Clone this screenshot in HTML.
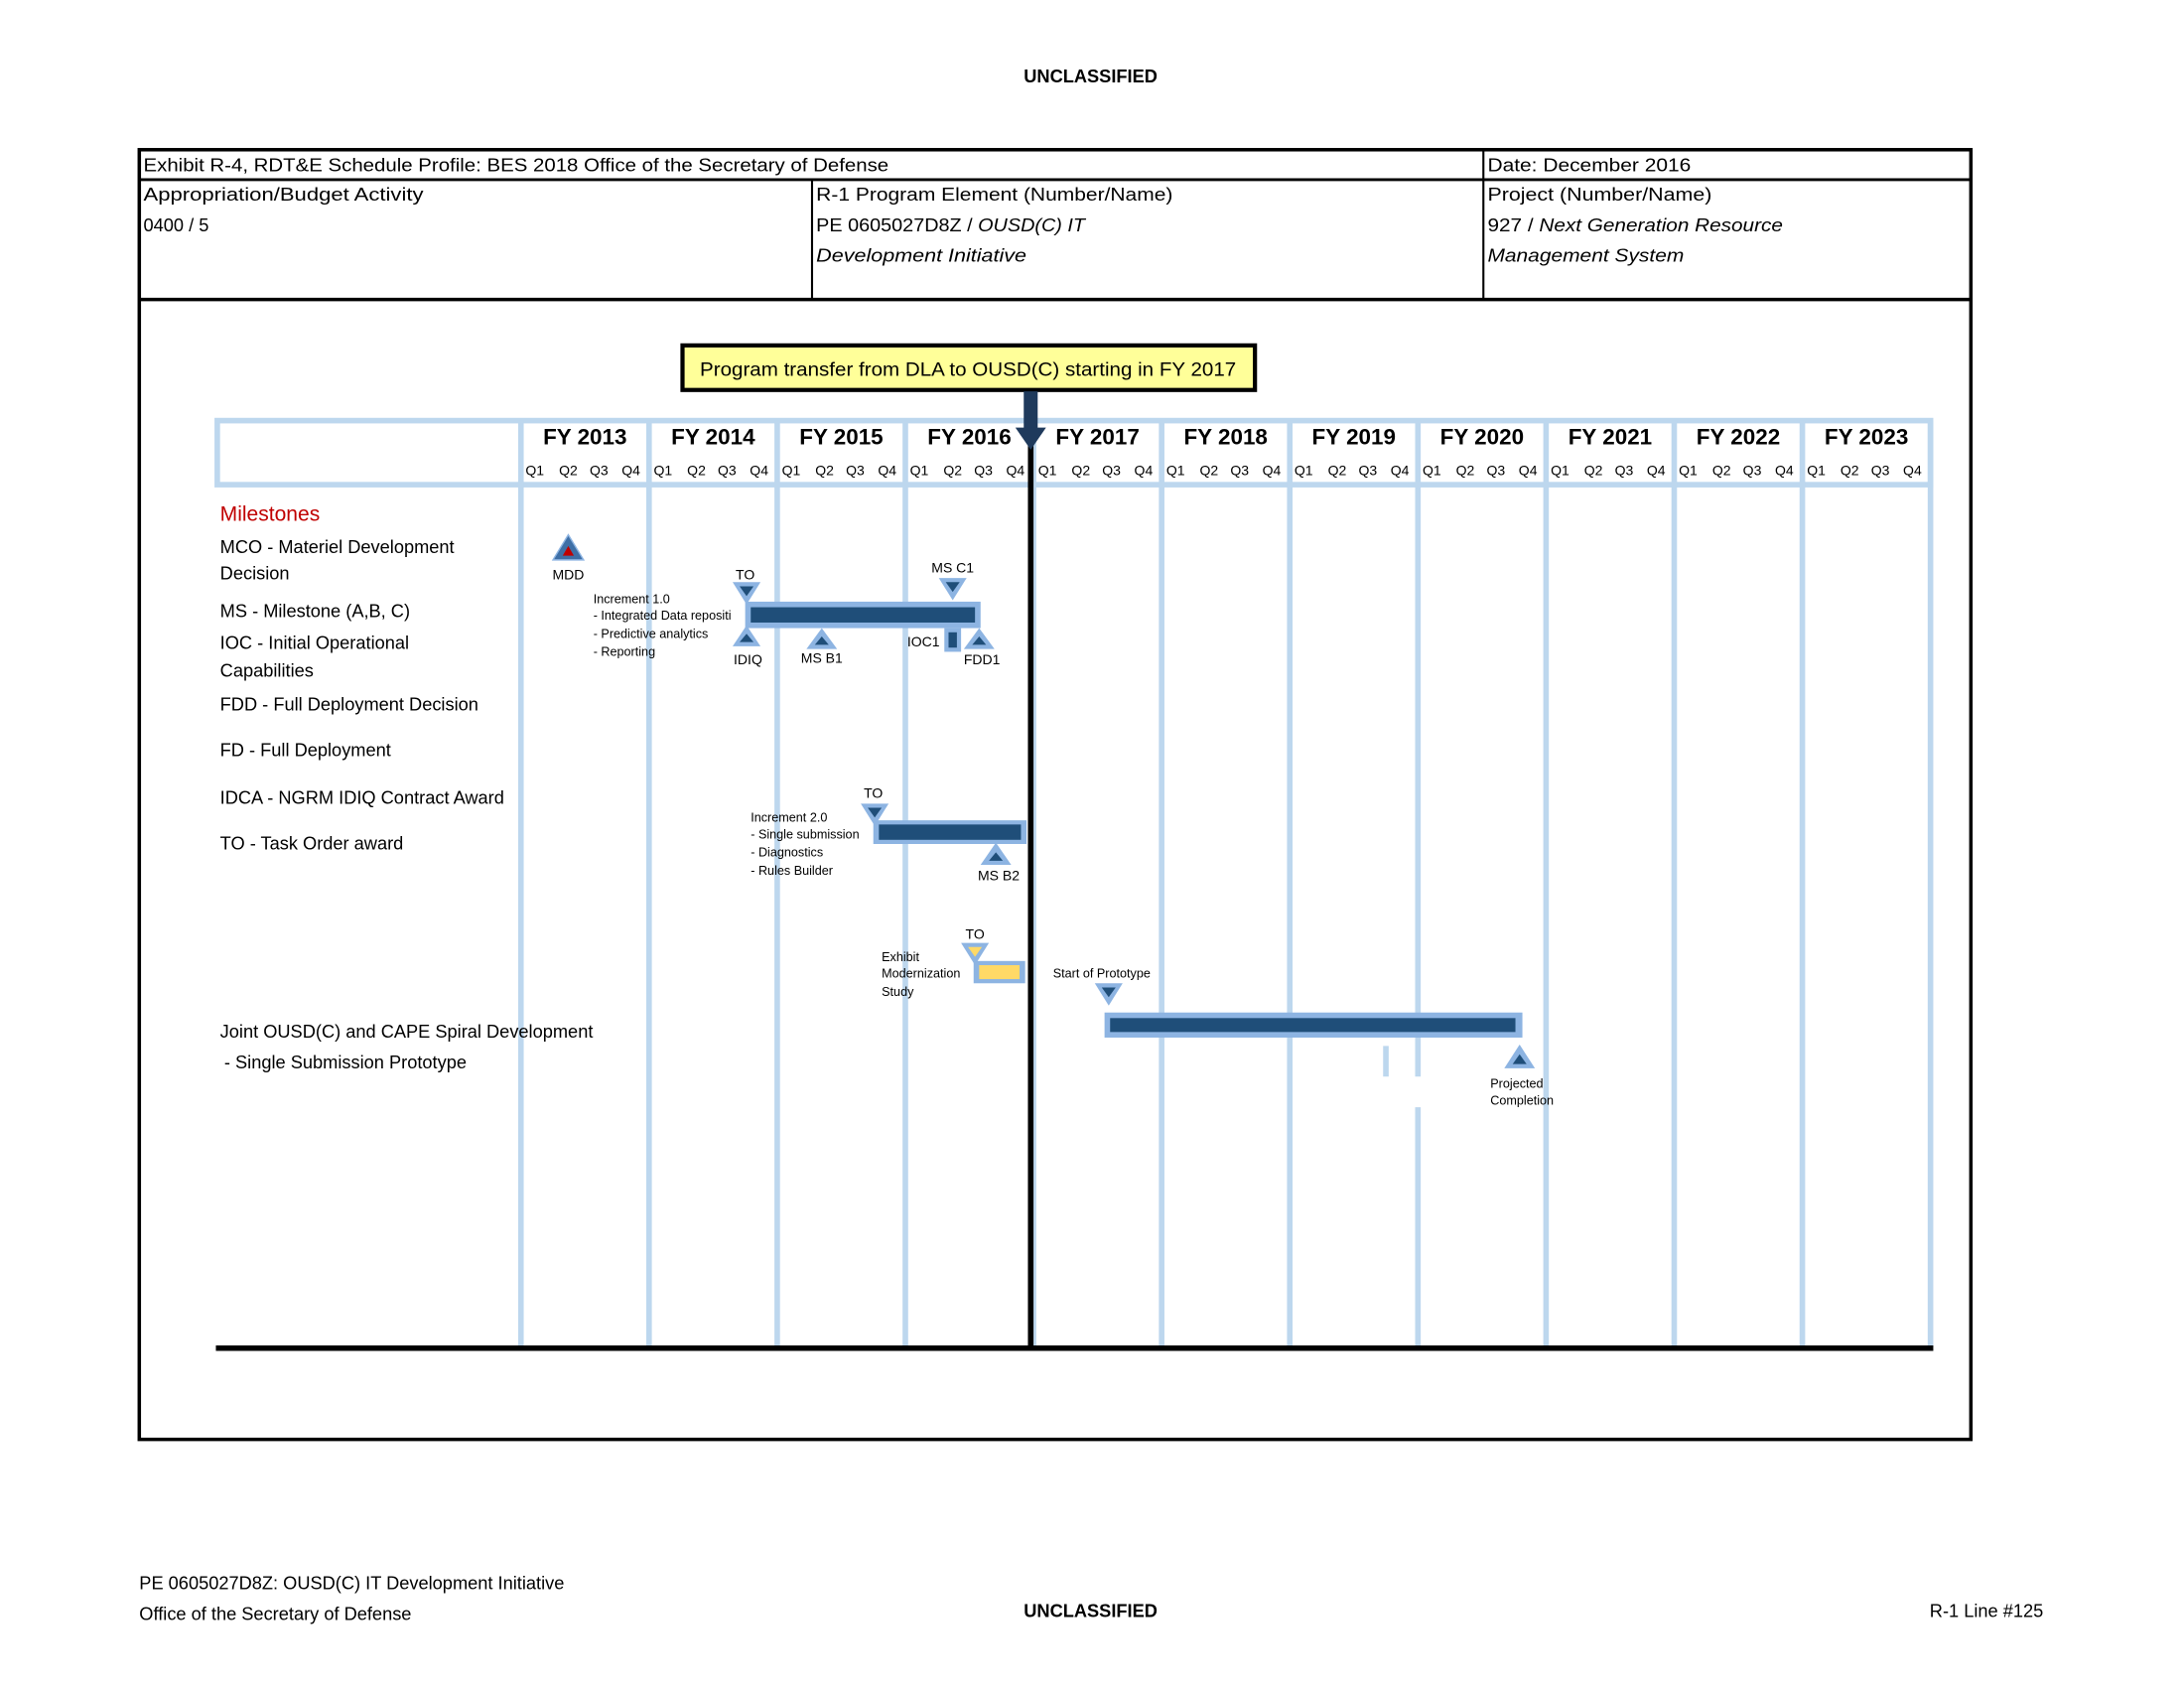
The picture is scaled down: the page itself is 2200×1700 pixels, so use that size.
<!DOCTYPE html>
<html><head><meta charset="utf-8"><style>
html,body{margin:0;padding:0;background:#fff;}
svg{display:block;}
text{font-family:"Liberation Sans",sans-serif;fill:#000;}
</style></head><body>
<svg width="2200" height="1700" viewBox="0 0 1568 1212" preserveAspectRatio="none" xmlns="http://www.w3.org/2000/svg">
<rect width="1600" height="1250" fill="#fff"/>
<text x="783" y="59" font-size="13" font-weight="bold" text-anchor="middle">UNCLASSIFIED</text>

<rect x="100" y="107.5" width="1315" height="926" fill="none" stroke="#000" stroke-width="2.5"/>
<line x1="100" y1="129" x2="1415" y2="129" stroke="#000" stroke-width="2"/>
<line x1="100" y1="215" x2="1415" y2="215" stroke="#000" stroke-width="2.5"/>
<line x1="1065" y1="107" x2="1065" y2="215" stroke="#000" stroke-width="1.5"/>
<line x1="583" y1="129" x2="583" y2="215" stroke="#000" stroke-width="1.5"/>
<g font-size="13">
<text x="103" y="123" textLength="535" lengthAdjust="spacingAndGlyphs">Exhibit R-4, RDT&amp;E Schedule Profile: BES 2018 Office of the Secretary of Defense</text>
<text x="1068" y="123" textLength="146" lengthAdjust="spacingAndGlyphs">Date: December 2016</text>
<text x="103" y="144" textLength="201" lengthAdjust="spacingAndGlyphs">Appropriation/Budget Activity</text>
<text x="103" y="166">0400 / 5</text>
<text x="586" y="144" textLength="256" lengthAdjust="spacingAndGlyphs">R-1 Program Element (Number/Name)</text>
<text x="586" y="166" textLength="193" lengthAdjust="spacingAndGlyphs">PE 0605027D8Z / <tspan font-style="italic">OUSD(C) IT</tspan></text>
<text x="586" y="188" font-style="italic" textLength="151" lengthAdjust="spacingAndGlyphs">Development Initiative</text>
<text x="1068" y="144" textLength="161" lengthAdjust="spacingAndGlyphs">Project (Number/Name)</text>
<text x="1068" y="166" textLength="212" lengthAdjust="spacingAndGlyphs">927 / <tspan font-style="italic">Next Generation Resource</tspan></text>
<text x="1068" y="188" font-style="italic" textLength="141" lengthAdjust="spacingAndGlyphs">Management System</text>
</g>

<rect x="490" y="248" width="411" height="32" fill="#ffff99" stroke="#000" stroke-width="3"/>
<text x="695" y="270" font-size="14" text-anchor="middle" textLength="385" lengthAdjust="spacingAndGlyphs">Program transfer from DLA to OUSD(C) starting in FY 2017</text>

<g stroke="#bdd7ee" stroke-width="4" fill="none">
<rect x="156" y="302" width="1230" height="46"/>
<line x1="374" y1="302" x2="374" y2="966"/>
<line x1="466" y1="302" x2="466" y2="966"/>
<line x1="558" y1="302" x2="558" y2="966"/>
<line x1="650" y1="302" x2="650" y2="966"/>
<line x1="742" y1="302" x2="742" y2="966"/>
<line x1="834" y1="302" x2="834" y2="966"/>
<line x1="926" y1="302" x2="926" y2="966"/>
<line x1="1018" y1="302" x2="1018" y2="966"/>
<line x1="1110" y1="302" x2="1110" y2="966"/>
<line x1="1202" y1="302" x2="1202" y2="966"/>
<line x1="1294" y1="302" x2="1294" y2="966"/>
<line x1="1386" y1="302" x2="1386" y2="966"/>
<line x1="995" y1="751" x2="995" y2="773"/>
</g>
<rect x="1012" y="773" width="12" height="22" fill="#fff"/>
<g font-size="16" font-weight="bold" text-anchor="middle">
<text x="420" y="319">FY 2013</text><text x="512" y="319">FY 2014</text><text x="604" y="319">FY 2015</text>
<text x="696" y="319">FY 2016</text><text x="788" y="319">FY 2017</text><text x="880" y="319">FY 2018</text>
<text x="972" y="319">FY 2019</text><text x="1064" y="319">FY 2020</text><text x="1156" y="319">FY 2021</text>
<text x="1248" y="319">FY 2022</text><text x="1340" y="319">FY 2023</text>
</g>
<g font-size="10" fill="#333" text-anchor="middle">
<text x="384" y="341">Q1</text><text x="408" y="341">Q2</text><text x="430" y="341">Q3</text><text x="453" y="341">Q4</text>
<text x="476" y="341">Q1</text><text x="500" y="341">Q2</text><text x="522" y="341">Q3</text><text x="545" y="341">Q4</text>
<text x="568" y="341">Q1</text><text x="592" y="341">Q2</text><text x="614" y="341">Q3</text><text x="637" y="341">Q4</text>
<text x="660" y="341">Q1</text><text x="684" y="341">Q2</text><text x="706" y="341">Q3</text><text x="729" y="341">Q4</text>
<text x="752" y="341">Q1</text><text x="776" y="341">Q2</text><text x="798" y="341">Q3</text><text x="821" y="341">Q4</text>
<text x="844" y="341">Q1</text><text x="868" y="341">Q2</text><text x="890" y="341">Q3</text><text x="913" y="341">Q4</text>
<text x="936" y="341">Q1</text><text x="960" y="341">Q2</text><text x="982" y="341">Q3</text><text x="1005" y="341">Q4</text>
<text x="1028" y="341">Q1</text><text x="1052" y="341">Q2</text><text x="1074" y="341">Q3</text><text x="1097" y="341">Q4</text>
<text x="1120" y="341">Q1</text><text x="1144" y="341">Q2</text><text x="1166" y="341">Q3</text><text x="1189" y="341">Q4</text>
<text x="1212" y="341">Q1</text><text x="1236" y="341">Q2</text><text x="1258" y="341">Q3</text><text x="1281" y="341">Q4</text>
<text x="1304" y="341">Q1</text><text x="1328" y="341">Q2</text><text x="1350" y="341">Q3</text><text x="1373" y="341">Q4</text>
</g>

<line x1="740" y1="318" x2="740" y2="966" stroke="#000" stroke-width="4"/>
<rect x="735" y="281" width="10" height="28" fill="#1f3a5c"/>
<polygon points="729,307 751,307 740,323" fill="#1f3a5c"/>
<line x1="155" y1="968" x2="1388" y2="968" stroke="#000" stroke-width="4"/>

<text x="158" y="374" font-size="15" style="fill:#c00000">Milestones</text>
<g font-size="13">
<text x="158" y="397">MCO - Materiel Development</text>
<text x="158" y="416">Decision</text>
<text x="158" y="443">MS - Milestone (A,B, C)</text>
<text x="158" y="466">IOC - Initial Operational</text>
<text x="158" y="486">Capabilities</text>
<text x="158" y="510">FDD - Full Deployment Decision</text>
<text x="158" y="543">FD - Full Deployment</text>
<text x="158" y="577">IDCA - NGRM IDIQ Contract Award</text>
<text x="158" y="610">TO - Task Order award</text>
<text x="158" y="745">Joint OUSD(C) and CAPE Spiral Development</text>
<text x="161" y="767"> - Single Submission Prototype</text>
</g>

<polygon points="397,402 419,402 408,384" fill="#3e6fa6" stroke="#8db4e2" stroke-width="1"/>
<polygon points="404,399 412,399 408,392" fill="#c00000"/>
<text x="408" y="416" font-size="10" text-anchor="middle">MDD</text>

<g font-size="9">
<text x="426" y="433">Increment 1.0</text>
<text x="426" y="445">- Integrated Data repositi</text>
<text x="426" y="458">- Predictive analytics</text>
<text x="426" y="471">- Reporting</text>
</g>
<rect x="535" y="432" width="169" height="19" fill="#8db4e2"/>
<rect x="539" y="436" width="161" height="11" fill="#1f4e79"/>
<polygon points="526,418 546,418 536,434" fill="#8db4e2"/><polygon points="531,421 541,421 536,428" fill="#1f4e79"/>
<text x="535" y="416" font-size="10" text-anchor="middle">TO</text>
<polygon points="674,415 694,415 684,431" fill="#8db4e2"/><polygon points="679,418 689,418 684,425" fill="#1f4e79"/>
<text x="684" y="411" font-size="10" text-anchor="middle">MS C1</text>
<polygon points="526,464 546,464 536,449" fill="#8db4e2"/><polygon points="531,461 541,461 536,455" fill="#1f4e79"/>
<text x="537" y="477" font-size="10" text-anchor="middle">IDIQ</text>
<polygon points="579,466 601,466 590,451" fill="#8db4e2"/><polygon points="585,463 595,463 590,457" fill="#1f4e79"/>
<text x="590" y="476" font-size="10" text-anchor="middle">MS B1</text>
<rect x="678" y="451" width="12" height="17" fill="#8db4e2"/><rect x="681" y="454" width="6" height="11" fill="#1f4e79"/>
<text x="663" y="464" font-size="10" text-anchor="middle">IOC1</text>
<polygon points="692,466 714,466 703,451" fill="#8db4e2"/><polygon points="698,463 708,463 703,457" fill="#1f4e79"/>
<text x="705" y="477" font-size="10" text-anchor="middle">FDD1</text>

<g font-size="9">
<text x="539" y="590">Increment 2.0</text>
<text x="539" y="602">- Single submission</text>
<text x="539" y="615">- Diagnostics</text>
<text x="539" y="628">- Rules Builder</text>
</g>
<rect x="627" y="589" width="110" height="17" fill="#8db4e2"/>
<rect x="631" y="592" width="102" height="11" fill="#1f4e79"/>
<polygon points="618,577 638,577 628,593" fill="#8db4e2"/><polygon points="623,580 633,580 628,587" fill="#1f4e79"/>
<text x="627" y="573" font-size="10" text-anchor="middle">TO</text>
<polygon points="704,621 726,621 715,605" fill="#8db4e2"/><polygon points="710,618 720,618 715,612" fill="#1f4e79"/>
<text x="717" y="632" font-size="10" text-anchor="middle">MS B2</text>

<g font-size="9">
<text x="633" y="690">Exhibit</text>
<text x="633" y="702">Modernization</text>
<text x="633" y="715">Study</text>
</g>
<rect x="699" y="690" width="37" height="16" fill="#8db4e2"/>
<rect x="703" y="693" width="29" height="10" fill="#ffd966"/>
<polygon points="690,677 710,677 700,693" fill="#8db4e2"/><polygon points="695,680 705,680 700,687" fill="#ffd966"/>
<text x="700" y="674" font-size="10" text-anchor="middle">TO</text>

<text x="756" y="702" font-size="9">Start of Prototype</text>
<polygon points="786,706 806,706 796,722" fill="#8db4e2"/><polygon points="791,709 801,709 796,716" fill="#1f4e79"/>
<rect x="793" y="727" width="300" height="18" fill="#8db4e2"/>
<rect x="797" y="731" width="291" height="10" fill="#1f4e79"/>
<polygon points="1080,767 1102,767 1091,750" fill="#8db4e2"/><polygon points="1086,764 1096,764 1091,757" fill="#1f4e79"/>
<text x="1070" y="781" font-size="9">Projected</text>
<text x="1070" y="793" font-size="9">Completion</text>

<g font-size="13">
<text x="100" y="1141">PE 0605027D8Z: OUSD(C) IT Development Initiative</text>
<text x="100" y="1163">Office of the Secretary of Defense</text>
<text x="1467" y="1161" text-anchor="end">R-1 Line #125</text>
</g>
<text x="783" y="1161" font-size="13" font-weight="bold" text-anchor="middle">UNCLASSIFIED</text>
</svg>
</body></html>
